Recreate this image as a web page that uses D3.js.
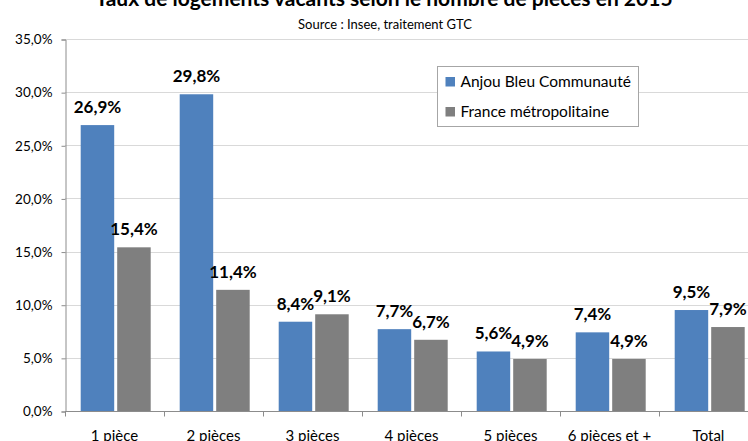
<!DOCTYPE html>
<html>
<head>
<meta charset="utf-8">
<script src="https://cdn.jsdelivr.net/npm/d3@7"></script>
<style>
  body { margin: 0; background: #fff; }
  svg { display: block; font-family: Lato, "Open Sans", sans-serif; }
</style>
</head>
<body>
<div id="chart"></div>
<script>
const categories = ['1 pièce', '2 pièces', '3 pièces', '4 pièces', '5 pièces', '6 pièces et +', 'Total'];
const seriesNames = ['Anjou Bleu Communauté', 'France métropolitaine'];
const anjouValues = [26.9, 29.8, 8.4, 7.7, 5.6, 7.4, 9.5];
const franceValues = [15.4, 11.4, 9.1, 6.7, 4.9, 4.9, 7.9];
const yTicks = [0, 5, 10, 15, 20, 25, 30, 35];
const titleText = 'Taux de logements vacants selon le nombre de pièces en 2015';
const subtitleText = 'Source : Insee, traitement GTC';

const width = 748;
const height = 441;
const margin = { top: 39, right: -10, bottom: 30, left: 65 };

const colors = d3.scaleOrdinal()
    .domain(seriesNames)
    .range(['#4F81BD', '#7F7F7F']);

const rows = categories.map((c, i) => ({
    category: c,
    values: [
        { series: seriesNames[0], value: anjouValues[i] },
        { series: seriesNames[1], value: franceValues[i] }
    ]
}));

const svg = d3.select('#chart')
    .append('svg')
    .attr('width', width)
    .attr('height', height);

const xScale = d3.scaleBand()
    .domain(categories)
    .range([margin.left, width - margin.right])
    .paddingInner(0)
    .paddingOuter(0);

const xInner = d3.scaleBand()
    .domain(seriesNames)
    .range([15.7, 85.7])
    .paddingInner(0.082);

const yScale = d3.scaleLinear()
    .domain([0, 35])
    .range([height - margin.bottom, margin.top]);

const fmt = v => d3.format('.1f')(v).replace('.', ',') + '%';

// gridlines
svg.append('g')
    .selectAll('line')
    .data(yTicks)
    .enter().append('line')
    .attr('x1', margin.left)
    .attr('x2', width - margin.right)
    .attr('y1', d => Math.round(yScale(d)) + 0.5)
    .attr('y2', d => Math.round(yScale(d)) + 0.5)
    .attr('stroke', '#d9d9d9')
    .attr('stroke-width', 1);

// y axis
svg.append('g')
    .attr('transform', `translate(${margin.left + 0.5},0.5)`)
    .call(d3.axisLeft(yScale)
        .tickValues(yTicks)
        .tickSize(4)
        .tickPadding(9)
        .tickFormat(fmt))
    .call(g => g.select('.domain').attr('stroke', '#8c8c8c'))
    .call(g => g.selectAll('.tick line').attr('stroke', '#8c8c8c'))
    .call(g => g.selectAll('.tick text')
        .attr('fill', '#000')
        .style('font-size', '13.5px')
        .style('font-family', 'Lato, sans-serif'));

// x axis
const xAxis = svg.append('g')
    .attr('transform', `translate(0,${Math.round(yScale(0)) + 0.5})`);

xAxis.append('line')
    .attr('x1', margin.left)
    .attr('x2', width - margin.right)
    .attr('stroke', '#8c8c8c');

xAxis.selectAll('.tickmark')
    .data(categories)
    .enter().append('line')
    .attr('class', 'tickmark')
    .attr('x1', d => Math.round(xScale(d)) + 0.5)
    .attr('x2', d => Math.round(xScale(d)) + 0.5)
    .attr('y1', 0)
    .attr('y2', 5)
    .attr('stroke', '#8c8c8c');

xAxis.selectAll('.ticklabel')
    .data(categories)
    .enter().append('text')
    .attr('class', 'ticklabel')
    .attr('x', d => xScale(d) + xScale.bandwidth() / 2)
    .attr('y', 29)
    .attr('text-anchor', 'middle')
    .style('font-size', '15px')
    .text(d => d);

// bars
const groups = svg.append('g')
    .selectAll('g')
    .data(rows)
    .enter().append('g')
    .attr('transform', d => `translate(${xScale(d.category)},0)`);

groups.selectAll('rect')
    .data(d => d.values)
    .enter().append('rect')
    .attr('x', d => xInner(d.series))
    .attr('y', d => yScale(d.value))
    .attr('width', xInner.bandwidth())
    .attr('height', d => yScale(0) - yScale(d.value))
    .attr('fill', d => colors(d.series));

groups.selectAll('text')
    .data(d => d.values)
    .enter().append('text')
    .attr('x', d => xInner(d.series) + xInner.bandwidth() / 2)
    .attr('y', d => yScale(d.value) - 12)
    .attr('text-anchor', 'middle')
    .style('font-size', '17px')
    .style('font-weight', 'bold')
    .text(d => fmt(d.value));

// legend
const legend = svg.append('g')
    .attr('transform', 'translate(437.5,66.5)');

legend.append('rect')
    .attr('width', 201)
    .attr('height', 60)
    .attr('fill', '#fff')
    .attr('stroke', '#a6a6a6');

const legendItem = legend.selectAll('.item')
    .data(seriesNames)
    .enter().append('g')
    .attr('class', 'item')
    .attr('transform', (d, i) => `translate(8,${15.5 + i * 30})`);

legendItem.append('rect')
    .attr('y', -5)
    .attr('width', 9.5)
    .attr('height', 9.5)
    .attr('fill', d => colors(d));

legendItem.append('text')
    .attr('x', 15)
    .attr('y', 0)
    .attr('dy', '0.35em')
    .style('font-size', '15.5px')
    .text(d => d);

// title
svg.append('text')
    .attr('x', 384)
    .attr('y', 6)
    .attr('text-anchor', 'middle')
    .style('font-size', '21px')
    .style('font-weight', 'bold')
    .text(titleText);

svg.append('text')
    .attr('x', 385)
    .attr('y', 28.5)
    .attr('text-anchor', 'middle')
    .style('font-size', '13px')
    .text(subtitleText);
</script>
</body>
</html>
